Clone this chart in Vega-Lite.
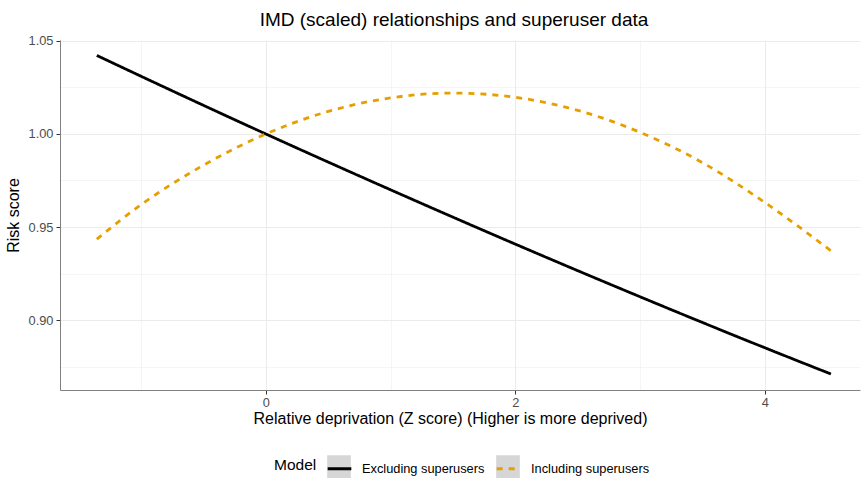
{
  "$schema": "https://vega.github.io/schema/vega-lite/v6.json",
  "width": 800,
  "height": 350,
  "autosize": {"type": "none"},
  "padding": {"left": 60, "top": 40, "right": 1, "bottom": 88},
  "background": "white",
  "title": {"text": "IMD (scaled) relationships and superuser data", "fontSize": 19, "font": "Liberation Sans", "fontWeight": "normal", "color": "#000000", "anchor": "middle", "dx": -6, "offset": 5},
  "data": {"values": [
    {"z": -1.355, "risk": 1.0422, "Model": "Excluding superusers"},
    {"z": -1, "risk": 1.031, "Model": "Excluding superusers"},
    {"z": 0, "risk": 1.0, "Model": "Excluding superusers"},
    {"z": 1, "risk": 0.97, "Model": "Excluding superusers"},
    {"z": 2, "risk": 0.9408, "Model": "Excluding superusers"},
    {"z": 3, "risk": 0.9125, "Model": "Excluding superusers"},
    {"z": 4, "risk": 0.8851, "Model": "Excluding superusers"},
    {"z": 4.53, "risk": 0.871, "Model": "Excluding superusers"},
    {"z": -1.355, "risk": 0.9435, "Model": "Including superusers"},
    {"z": -1, "risk": 0.962, "Model": "Including superusers"},
    {"z": -0.5, "risk": 0.9832, "Model": "Including superusers"},
    {"z": 0, "risk": 1.0, "Model": "Including superusers"},
    {"z": 0.5, "risk": 1.0121, "Model": "Including superusers"},
    {"z": 1, "risk": 1.0194, "Model": "Including superusers"},
    {"z": 1.5, "risk": 1.022, "Model": "Including superusers"},
    {"z": 2, "risk": 1.0197, "Model": "Including superusers"},
    {"z": 2.5, "risk": 1.0127, "Model": "Including superusers"},
    {"z": 3, "risk": 1.0009, "Model": "Including superusers"},
    {"z": 3.5, "risk": 0.9846, "Model": "Including superusers"},
    {"z": 4, "risk": 0.9632, "Model": "Including superusers"},
    {"z": 4.53, "risk": 0.9372, "Model": "Including superusers"}
  ]},
  "encoding": {
    "x": {
      "field": "z", "type": "quantitative",
      "scale": {"domain": [-1.65, 4.763], "nice": false, "zero": false},
      "axis": {
        "title": "Relative deprivation (Z score) (Higher is more deprived)",
        "titleX": 390, "titleAlign": "center", "titleAnchor": null,
        "values": [-1, 0, 1, 2, 3, 4],
        "labelExpr": "datum.value % 2 === 0 ? datum.label : ''",
        "tickOpacity": {"condition": {"test": "datum.value % 2 === 0", "value": 1}, "value": 0},
        "gridWidth": {"condition": {"test": "datum.value % 2 === 0", "value": 1}, "value": 0.5},
        "gridColor": "#EBEBEB",
        "domainColor": "#808080", "domainWidth": 1,
        "tickColor": "#333333", "tickSize": 4, "tickWidth": 1,
        "labelFont": "Liberation Sans", "labelFontSize": 12.8, "labelColor": "#4D4D4D", "labelPadding": 2,
        "titleFont": "Liberation Sans", "titleFontSize": 16, "titleFontWeight": "normal", "titleColor": "#000000", "titlePadding": 2
      }
    },
    "y": {
      "field": "risk", "type": "quantitative",
      "scale": {"domain": [0.8624, 1.0505], "nice": false, "zero": false},
      "axis": {
        "title": "Risk score",
        "values": [0.875, 0.9, 0.925, 0.95, 0.975, 1.0, 1.025, 1.05],
        "format": ".2f",
        "labelExpr": "round(datum.value * 1000) % 50 === 0 ? datum.label : ''",
        "tickOpacity": {"condition": {"test": "round(datum.value * 1000) % 50 === 0", "value": 1}, "value": 0},
        "gridWidth": {"condition": {"test": "round(datum.value * 1000) % 50 === 0", "value": 1}, "value": 0.5},
        "gridColor": "#EBEBEB",
        "domainColor": "#808080", "domainWidth": 1,
        "tickColor": "#333333", "tickSize": 4, "tickWidth": 1,
        "labelFont": "Liberation Sans", "labelFontSize": 12.8, "labelColor": "#4D4D4D", "labelPadding": 3,
        "titleFont": "Liberation Sans", "titleFontSize": 16, "titleFontWeight": "normal", "titleColor": "#000000", "titlePadding": 7
      }
    }
  },
  "layer": [
    {
      "mark": {"type": "point", "opacity": 0, "filled": true},
      "encoding": {
        "fill": {
          "field": "Model", "type": "nominal",
          "scale": {"range": ["#D6D6D6", "#D6D6D6"]},
          "legend": {"title": null, "legendX": 267, "symbolType": "square", "symbolSize": 560, "symbolOpacity": 1, "symbolStrokeWidth": 0, "labelExpr": "''", "labelOffset": 0, "columnPadding": 145}
        }
      }
    },
    {
      "mark": {"type": "line", "strokeWidth": 2.8, "interpolate": "monotone", "clip": true},
      "encoding": {
        "stroke": {
          "field": "Model", "type": "nominal",
          "scale": {"domain": ["Excluding superusers", "Including superusers"], "range": ["#000000", "#E69F00"]},
          "legend": {"title": "Model", "symbolType": "stroke", "symbolSize": 560, "symbolStrokeWidth": 3}
        },
        "strokeDash": {
          "field": "Model", "type": "nominal",
          "scale": {"domain": ["Excluding superusers", "Including superusers"], "range": [[1, 0], [6, 6]]},
          "legend": {"title": "Model", "symbolType": "stroke", "symbolSize": 560, "symbolStrokeWidth": 3}
        }
      }
    }
  ],
  "config": {
    "view": {"stroke": null},
    "font": "Liberation Sans",
    "legend": {
      "orient": "none", "legendX": 214, "legendY": 415,
      "direction": "horizontal", "titleOrient": "left",
      "titleFont": "Liberation Sans", "titleFontSize": 15.5, "titleFontWeight": "normal", "titleColor": "#000000", "titlePadding": 9,
      "labelFont": "Liberation Sans", "labelFontSize": 12.8, "labelColor": "#000000", "labelOffset": 9,
      "columnPadding": 5
    }
  }
}
